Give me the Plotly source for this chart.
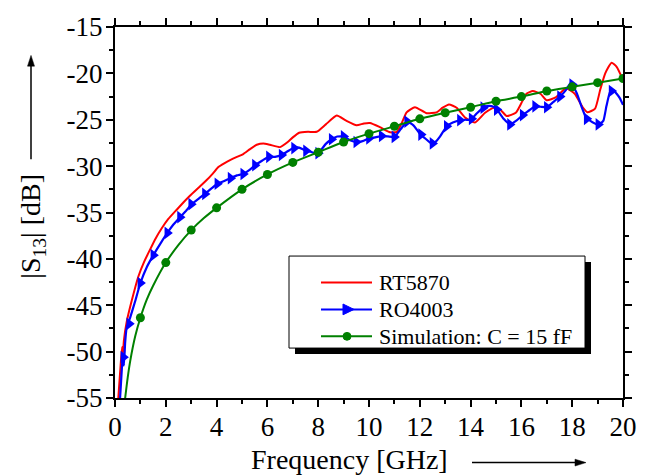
import plotly.graph_objects as go

# ---------------- data ----------------
rt_freq = [0.13, 0.22, 0.28, 0.31, 0.35, 0.46, 0.66, 0.92, 1.15, 1.38, 1.6, 1.84, 2.1, 2.43, 2.7,
           2.95, 3.3, 3.61, 3.85, 4.07, 4.3, 4.53, 4.8, 5.05, 5.3, 5.58, 5.84, 6.1, 6.5, 6.8,
           7.0, 7.25, 7.6, 7.94, 8.3, 8.73, 9.1, 9.51, 9.8, 10.04, 10.43, 10.83, 11.09, 11.3,
           11.48, 11.81, 12.27, 12.66, 12.9, 13.15, 13.45, 13.8, 14.17, 14.57, 14.93, 15.2,
           15.42, 15.78, 16.0, 16.2, 16.45, 16.75, 17.0, 17.35, 17.75, 18.1, 18.4, 18.6, 18.9,
           19.1, 19.3, 19.55, 19.75, 20.0]
rt_db = [-55, -51.5, -49.5, -50.3, -48.8, -46.8, -44.5, -41.9, -40.3, -39.0, -37.8, -36.7, -35.7,
         -34.7, -33.9, -33.2, -32.3, -31.5, -30.8, -30.1, -29.7, -29.35, -29.0, -28.7, -28.2,
         -27.7, -27.55, -27.7, -27.95, -27.4, -26.9, -26.4, -26.3, -26.3, -25.5, -24.55, -25.1,
         -25.6, -25.4, -25.35, -25.8, -26.35, -26.3, -25.3, -24.2, -23.65, -24.3, -24.2, -23.7,
         -23.35, -23.7, -24.8, -25.3, -24.25, -23.7, -24.0, -24.6, -24.25, -23.2, -22.2, -21.9,
         -22.2, -22.9, -22.6, -21.6, -22.2, -23.6, -24.2, -23.8, -21.8, -20.0, -18.85, -19.3,
         -20.7]

ro_freq = [0.2, 0.27, 0.31, 0.35, 0.4, 0.46, 0.6, 0.79, 1.0, 1.25, 1.51, 1.8, 2.06, 2.3, 2.56,
           2.8, 3.02, 3.3, 3.54, 3.8, 4.03, 4.3, 4.55, 4.8, 5.03, 5.3, 5.51, 5.8, 6.04, 6.3,
           6.56, 6.8, 7.02, 7.25, 7.48, 7.75, 7.94, 8.1, 8.3, 8.53, 8.75, 9.0, 9.25, 9.5, 9.75,
           10.0, 10.25, 10.5, 10.75, 11.0, 11.25, 11.5, 11.75, 12.0, 12.25, 12.47, 12.65, 12.8,
           13.06, 13.3, 13.58, 13.8, 14.0, 14.25, 14.5, 14.7, 14.9, 15.09, 15.3, 15.55, 15.8,
           16.01, 16.25, 16.54, 16.75, 17.0, 17.25, 17.52, 17.75, 17.95, 18.18, 18.37, 18.55,
           18.7, 18.96, 19.1, 19.23, 19.35, 19.49, 19.62, 19.75, 19.88, 20.0]
ro_db = [-55, -51.8, -50.3, -51.5, -49.0, -47.4, -46.3, -44.6, -42.6, -40.9, -39.6, -38.3, -37.2,
         -36.3, -35.5, -34.8, -34.1, -33.5, -33.0, -32.4, -31.9, -31.6, -31.3, -31.0, -30.85,
         -30.4, -29.9, -29.4, -29.0, -29.0, -28.8, -28.4, -28.05, -28.0, -28.3, -28.5, -28.65,
         -28.3, -27.6, -27.1, -26.8, -26.8, -27.2, -27.4, -27.3, -27.0, -26.9, -26.75, -26.8,
         -26.85, -26.0, -25.2, -25.6, -26.5, -27.1, -27.6, -27.3, -26.8, -25.7, -25.3, -25.05,
         -25.0, -25.0, -24.3, -23.7, -23.5, -23.6, -24.1, -24.9, -25.5, -25.1, -24.6, -24.1,
         -23.55, -23.6, -23.65, -23.1, -22.5, -21.8, -21.0, -22.15, -23.6, -24.8, -25.1, -25.5,
         -25.4, -25.1, -23.5, -22.0, -21.8, -22.2, -22.7, -23.4]

ro_marker_freq = [0.33, 0.56, 1.0, 1.51, 2.06, 2.56, 3.0, 3.54, 4.03, 4.55, 5.05, 5.51, 6.06,
                  6.56, 7.05, 7.52, 8.0, 8.53, 9.0, 9.5, 10.0, 10.5, 11.0, 11.5, 12.05, 12.5,
                  13.06, 13.58, 14.04, 14.5, 15.03, 15.55, 16.05, 16.54, 17.0, 17.52, 18.0,
                  18.57, 19.03, 19.55]
ro_marker_db = [-50.6, -47.0, -42.6, -39.6, -37.2, -35.5, -34.1, -33.0, -31.9, -31.3, -30.85,
                -29.9, -29.0, -28.8, -28.05, -28.35, -28.6, -27.1, -26.8, -27.4, -27.0, -26.75,
                -26.85, -25.2, -26.6, -27.55, -25.7, -25.05, -24.9, -23.7, -23.9, -25.5, -24.5,
                -23.55, -23.65, -22.5, -21.2, -24.9, -25.5, -21.9]

sim_freq = [0.4, 0.5, 0.6, 0.8, 1, 1.25, 1.5, 2, 2.5, 3, 3.5, 4, 5, 6, 7, 8, 9, 10, 11, 12, 13,
            14, 15, 16, 17, 18, 19, 20]
sim_db = [-55, -52.8, -51.0, -48.3, -46.35, -44.4, -42.9, -40.4, -38.5, -36.9, -35.6, -34.5,
          -32.5, -30.9, -29.6, -28.5, -27.4, -26.5, -25.7, -24.9, -24.25, -23.65, -23.0, -22.5,
          -21.9, -21.45, -21.0, -20.55]
sim_marker_freq = [f for f in sim_freq if f >= 1 and float(f).is_integer()]
sim_marker_db = [d for f, d in zip(sim_freq, sim_db) if f >= 1 and float(f).is_integer()]

x_ticks = list(range(0, 21, 2))
y_ticks = [-55, -50, -45, -40, -35, -30, -25, -20, -15]
y_ticktext = ["%d" % v for v in y_ticks]  # plain hyphen-minus like the reference

series_names = ["RT5870", "RO4003", "Simulation: C = 15 fF"]

RED = "#ff0000"
BLUE = "#0000ff"
GREEN = "#008000"
FONT = '"Liberation Serif", "Times New Roman", Times, "DejaVu Serif", serif'

# ---------------- geometry (pixels) ----------------
W, H = 651, 476
ML, MR, MT, MB = 115, 28, 19, 78
PW, PH = W - ML - MR, H - MT - MB


def px(xp):
    return (xp - ML) / PW


def py(yp):
    return (H - MB - yp) / PH


def ppath(points):
    return "M " + " L ".join("%.5f,%.5f" % (px(a), py(b)) for a, b in points) + " Z"


fig = go.Figure()

fig.add_trace(go.Scatter(x=rt_freq, y=rt_db, mode="lines", name=series_names[0],
                         line=dict(color=RED, width=2, shape="spline", smoothing=0.5)))
fig.add_trace(go.Scatter(x=ro_freq, y=ro_db, mode="lines", name=series_names[1],
                         line=dict(color=BLUE, width=2.2, shape="spline", smoothing=0.4)))
fig.add_trace(go.Scatter(x=ro_marker_freq, y=ro_marker_db, mode="markers", name=series_names[1],
                         marker=dict(symbol="triangle-right", size=11, color=BLUE)))
fig.add_trace(go.Scatter(x=sim_freq, y=sim_db, mode="lines", name=series_names[2],
                         line=dict(color=GREEN, width=2, shape="spline", smoothing=0.6)))
fig.add_trace(go.Scatter(x=sim_marker_freq, y=sim_marker_db, mode="markers",
                         name=series_names[2],
                         marker=dict(symbol="circle", size=9, color=GREEN)))

axis_common = dict(
    showline=True, linecolor="black", linewidth=2, mirror="ticks",
    ticks="outside", ticklen=7, tickwidth=1.5, tickcolor="black",
    showgrid=False, zeroline=False,
    tickfont=dict(family=FONT, size=27, color="black"),
)

fig.update_xaxes(range=[0, 20], tickvals=x_ticks, ticktext=[str(v) for v in x_ticks],
                 minor=dict(dtick=1, ticks="outside", ticklen=4, tickwidth=1.5,
                            tickcolor="black"),
                 ticklabelstandoff=-3,
                 **axis_common)
fig.update_yaxes(range=[-55, -15], tickvals=y_ticks, ticktext=y_ticktext,
                 minor=dict(dtick=2.5, ticks="outside", ticklen=4, tickwidth=1.5,
                            tickcolor="black"),
                 ticklabelstandoff=-2,
                 **axis_common)

# ---------------- legend drawn by hand (box with shadow) ----------------
leg_rows = [280, 307.5, 335]
leg_colors = [RED, BLUE, GREEN]
line_x0, line_x1, sym_x, text_x = 321, 372, 347, 377

shapes = [
    dict(type="rect", xref="paper", yref="paper", x0=px(295), x1=px(591), y0=py(353), y1=py(259),
         fillcolor="black", line=dict(width=0), layer="below"),
    dict(type="rect", xref="paper", yref="paper", x0=px(289), x1=px(585), y0=py(347), y1=py(253),
         fillcolor="white", line=dict(color="black", width=1), layer="below"),
]
for row, col in zip(leg_rows, leg_colors):
    shapes.append(dict(type="line", xref="paper", yref="paper", x0=px(line_x0), x1=px(line_x1),
                       y0=py(row), y1=py(row), line=dict(color=col, width=2), layer="above"))
shapes.append(dict(type="path", xref="paper", yref="paper",
                   path=ppath([(sym_x - 4, leg_rows[1] - 5.5), (sym_x + 7, leg_rows[1]),
                               (sym_x - 4, leg_rows[1] + 5.5)]),
                   fillcolor=BLUE, line=dict(color=BLUE, width=1), layer="above"))
shapes.append(dict(type="circle", xref="paper", yref="paper",
                   x0=px(sym_x - 4), x1=px(sym_x + 4), y0=py(leg_rows[2] + 4),
                   y1=py(leg_rows[2] - 4), fillcolor=GREEN,
                   line=dict(color=GREEN, width=1), layer="above"))

# axis-direction arrows next to the axis titles
shapes += [
    dict(type="line", xref="paper", yref="paper", x0=px(31), x1=px(31), y0=py(154), y1=py(57),
         line=dict(color="black", width=1.5)),
    dict(type="path", xref="paper", yref="paper",
         path=ppath([(31, 48), (27.5, 59), (34.5, 59)]),
         fillcolor="black", line=dict(color="black", width=0.5)),
    dict(type="line", xref="paper", yref="paper", x0=px(472), x1=px(577), y0=py(464), y1=py(464),
         line=dict(color="black", width=1.5)),
    dict(type="path", xref="paper", yref="paper",
         path=ppath([(586, 464), (575, 460.5), (575, 467.5)]),
         fillcolor="black", line=dict(color="black", width=0.5)),
]

annotations = [
    dict(text="|S<sub>13</sub>| [dB]", xref="paper", yref="paper", x=px(33), y=py(223),
         textangle=-90, showarrow=False, xanchor="center", yanchor="middle",
         font=dict(family=FONT, size=28, color="black")),
    dict(text="Frequency [GHz]", xref="paper", yref="paper", x=px(349), y=py(461),
         showarrow=False, xanchor="center", yanchor="middle",
         font=dict(family=FONT, size=28, color="black")),
]
for row, name in zip(leg_rows, series_names):
    annotations.append(dict(text=name, xref="paper", yref="paper", x=px(text_x), y=py(row),
                            showarrow=False, xanchor="left", yanchor="middle",
                            font=dict(family=FONT, size=22, color="black")))

fig.update_layout(
    width=W, height=H,
    margin=dict(l=ML, r=MR, t=MT, b=MB),
    paper_bgcolor="white", plot_bgcolor="white",
    font=dict(family=FONT, color="black"),
    shapes=shapes, annotations=annotations,
    showlegend=False,
)

fig.write_html("out.html")
